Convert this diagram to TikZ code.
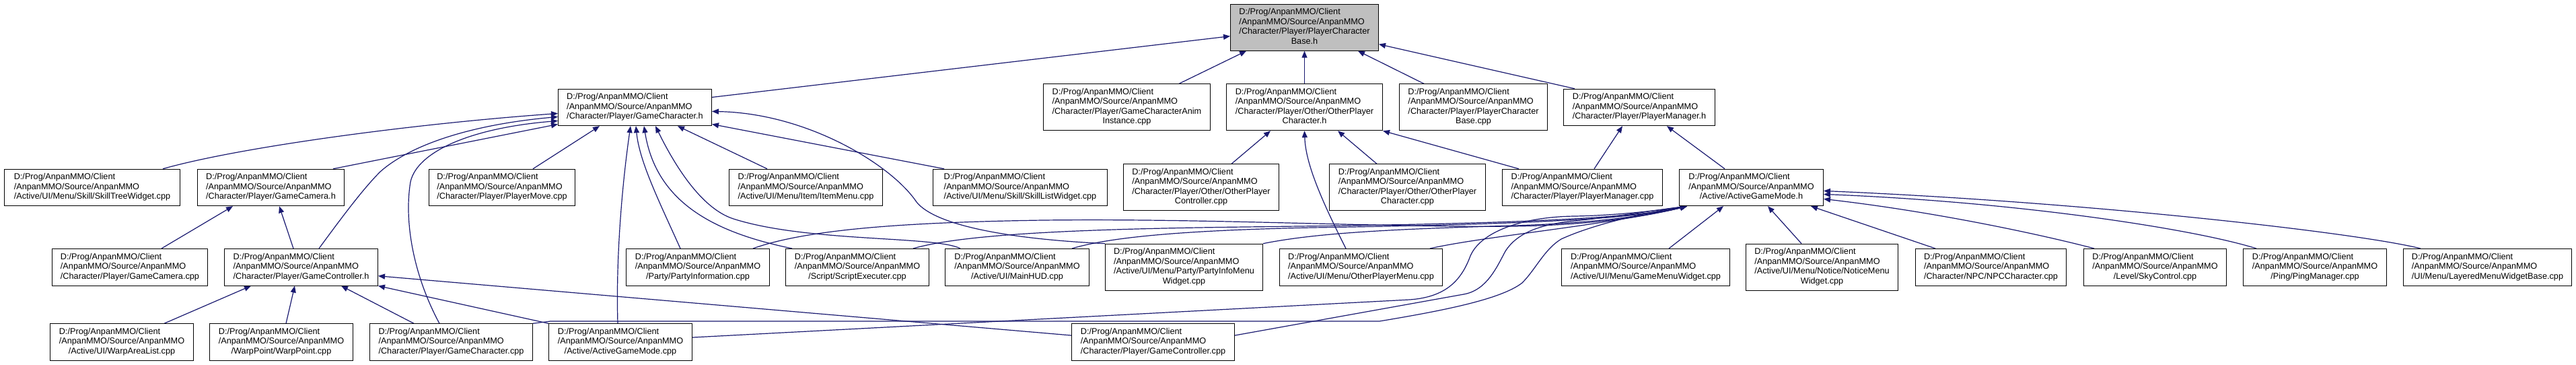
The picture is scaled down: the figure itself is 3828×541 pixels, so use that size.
\documentclass[tikz,border=0pt]{standalone}
\usepackage{fontspec}
\setmainfont{Liberation Sans}
\usetikzlibrary{arrows.meta}
\definecolor{edgec}{HTML}{191970}
\definecolor{rootc}{HTML}{BFBFBF}
\newcommand\lbl[2]{\begin{tabular}{@{}l@{}}#1\\\multicolumn{1}{@{}c@{}}{#2}\end{tabular}}
\newcommand\pre{D:/Prog/AnpanMMO/Client\\/AnpanMMO/Source/AnpanMMO}
\pgfdeclarelayer{bg}\pgfsetlayers{bg,main}
\begin{document}
\begin{tikzpicture}[x=1pt,y=-1pt,
  box/.style={draw=black, line width=1pt, fill=white, anchor=north west, inner sep=0pt, font=\fontsize{12.7}{14.5}\selectfont, text=black},
  tri/.style={box, minimum height=54.5pt},
  quad/.style={box, minimum height=69pt},
  dep/.style={draw=edgec, line width=1.2pt, -{Triangle[length=10pt,width=8pt]}},
]
\useasboundingbox (0,0) rectangle (3828,541);
% row 0
\node[quad, fill=rootc, minimum width=220] (R0) at (1828,5.7) {\lbl{\pre\\/Character/Player/PlayerCharacter}{Base.h}};
% row 1
\node[tri, minimum width=228] (GCh) at (829,131.7) {\lbl{\pre}{/Character/Player/GameCharacter.h}};
\node[quad, minimum width=248] (AnimI) at (1550,124.3) {\lbl{\pre\\/Character/Player/GameCharacterAnim}{Instance.cpp}};
\node[quad, minimum width=232] (OPCh) at (1822,124.3) {\lbl{\pre\\/Character/Player/Other/OtherPlayer}{Character.h}};
\node[quad, minimum width=220] (PCBcpp) at (2079,124.3) {\lbl{\pre\\/Character/Player/PlayerCharacter}{Base.cpp}};
\node[tri, minimum width=225] (PMh) at (2323,131.7) {\lbl{\pre}{/Character/Player/PlayerManager.h}};
% row 2
\node[tri, minimum width=261] (STW) at (6,250.7) {\lbl{\pre}{/Active/UI/Menu/Skill/SkillTreeWidget.cpp}};
\node[tri, minimum width=218] (GCamh) at (293,250.7) {\lbl{\pre}{/Character/Player/GameCamera.h}};
\node[tri, minimum width=217] (PMove) at (637,250.7) {\lbl{\pre}{/Character/Player/PlayerMove.cpp}};
\node[tri, minimum width=228] (Item) at (1083,250.7) {\lbl{\pre}{/Active/UI/Menu/Item/ItemMenu.cpp}};
\node[tri, minimum width=259] (SLW) at (1386,250.7) {\lbl{\pre}{/Active/UI/Menu/Skill/SkillListWidget.cpp}};
\node[quad, minimum width=231] (OPCtrl) at (1669,243.3) {\lbl{\pre\\/Character/Player/Other/OtherPlayer}{Controller.cpp}};
\node[quad, minimum width=232] (OPCcpp) at (1975,243.3) {\lbl{\pre\\/Character/Player/Other/OtherPlayer}{Character.cpp}};
\node[tri, minimum width=238] (PMcpp) at (2232,250.7) {\lbl{\pre}{/Character/Player/PlayerManager.cpp}};
\node[tri, minimum width=214] (AGMh) at (2495,250.7) {\lbl{\pre}{/Active/ActiveGameMode.h}};
% row 3
\node[tri, minimum width=231] (GCamcpp) at (77,369) {\lbl{\pre}{/Character/Player/GameCamera.cpp}};
\node[tri, minimum width=228] (GCtrlh) at (333,369) {\lbl{\pre}{/Character/Player/GameController.h}};
\node[tri, minimum width=213] (PInfo) at (930,369) {\lbl{\pre}{/Party/PartyInformation.cpp}};
\node[tri, minimum width=213] (Script) at (1167,369) {\lbl{\pre}{/Script/ScriptExecuter.cpp}};
\node[tri, minimum width=214] (HUD) at (1404,369) {\lbl{\pre}{/Active/UI/MainHUD.cpp}};
\node[quad, minimum width=234] (PIMW) at (1642,361.7) {\lbl{\pre\\/Active/UI/Menu/Party/PartyInfoMenu}{Widget.cpp}};
\node[tri, minimum width=242] (OPMenu) at (1901,369) {\lbl{\pre}{/Active/UI/Menu/OtherPlayerMenu.cpp}};
\node[tri, minimum width=250] (GMW) at (2320,369) {\lbl{\pre}{/Active/UI/Menu/GameMenuWidget.cpp}};
\node[quad, minimum width=226] (NMW) at (2594,361.7) {\lbl{\pre\\/Active/UI/Menu/Notice/NoticeMenu}{Widget.cpp}};
\node[tri, minimum width=224] (NPC) at (2846,369) {\lbl{\pre}{/Character/NPC/NPCCharacter.cpp}};
\node[tri, minimum width=212] (Sky) at (3096,369) {\lbl{\pre}{/Level/SkyControl.cpp}};
\node[tri, minimum width=213] (Ping) at (3333,369) {\lbl{\pre}{/Ping/PingManager.cpp}};
\node[tri, minimum width=250] (LMWB) at (3571,369) {\lbl{\pre}{/UI/Menu/LayeredMenuWidgetBase.cpp}};
% row 4
\node[tri, minimum width=213] (WAL) at (74,480.3) {\lbl{\pre}{/Active/UI/WarpAreaList.cpp}};
\node[tri, minimum width=213] (WP) at (311,480.3) {\lbl{\pre}{/WarpPoint/WarpPoint.cpp}};
\node[tri, minimum width=242] (GCcpp) at (549,480.3) {\lbl{\pre}{/Character/Player/GameCharacter.cpp}};
\node[tri, minimum width=213] (AGMcpp) at (815,480.3) {\lbl{\pre}{/Active/ActiveGameMode.cpp}};
\node[tri, minimum width=242] (GCtrlcpp) at (1592,480.3) {\lbl{\pre}{/Character/Player/GameController.cpp}};

\begin{pgfonlayer}{bg}
\fill[white] (0,0) rectangle (3828,541);
% into root
\draw[dep] ([yshift=15]GCh.east) -- ([yshift=-13]R0.west);
\draw[dep] ([xshift=202]AnimI.north west) -- ([xshift=24]R0.south west);
\draw[dep] (OPCh.north) -- (R0.south);
\draw[dep] ([xshift=37]PCBcpp.north west) -- ([xshift=190]R0.south west);
\draw[dep] ([xshift=17]PMh.north west) -- ([yshift=10]R0.south east);
% into GameCharacter.h
\draw[dep] ([xshift=236]STW.north west) .. controls (350,220) and (600,185) .. ([yshift=-9]GCh.west);
\draw[dep] ([xshift=202]GCamh.north west) -- ([yshift=-25]GCh.west);
\draw[dep] ([xshift=141]GCtrlh.north west) .. controls (510,320) and (540,280) .. (565,255) .. controls (610,215) and (700,185) .. ([yshift=-14]GCh.west);
\draw[dep] ([xshift=104]GCcpp.north west) .. controls (615,410) and (600,330) .. (610,270) .. controls (620,225) and (700,190) .. ([yshift=-20]GCh.west);
\draw[dep] ([xshift=155]PMove.north west) -- ([xshift=62]GCh.south west);
\draw[dep] ([xshift=103]AGMcpp.north west) .. controls (915,380) and (925,270) .. ([xshift=108]GCh.south west);
\draw[dep] ([xshift=81]PInfo.north west) .. controls (980,300) and (950,240) .. ([xshift=116]GCh.south west);
\draw[dep] ([xshift=10]Script.north west) .. controls (1060,345) and (975,300) .. ([xshift=128]GCh.south west);
\draw[dep] ([xshift=23]HUD.north west) .. controls (1390,350) and (1200,360) .. (1090,325) .. controls (1040,309) and (1000,240) .. ([xshift=145]GCh.south west);
\draw[dep] ([xshift=57]Item.north west) -- ([xshift=178]GCh.south west);
\draw[dep] ([xshift=17]SLW.north west) -- ([yshift=-25]GCh.east);
\draw[dep] (PIMW.north west) .. controls (1500,355) and (1390,335) .. (1362,300) .. controls (1325,245) and (1200,168) .. ([yshift=-6]GCh.east);
% into GameCamera.h
\draw[dep] ([xshift=163]GCamcpp.north west) -- ([xshift=53]GCamh.south west);
\draw[dep] ([xshift=103]GCtrlh.north west) -- ([xshift=122]GCamh.south west);
% into GameController.h
\draw[dep] ([xshift=170]WAL.north west) -- ([xshift=40]GCtrlh.south west);
\draw[dep] ([xshift=114]WP.north west) -- ([xshift=105]GCtrlh.south west);
\draw[dep] ([xshift=66]GCcpp.north west) -- ([xshift=174]GCtrlh.south west);
\draw[dep] (AGMcpp.north west) -- (GCtrlh.south east);
\draw[dep] ([yshift=10]GCtrlcpp.west) -- ([yshift=-13]GCtrlh.east);
% into OtherPlayerCharacter.h
\draw[dep] ([xshift=161]OPCtrl.north west) -- ([xshift=66]OPCh.south west);
\draw[dep] ([xshift=71]OPCcpp.north west) -- ([xshift=166]OPCh.south west);
\draw[dep] ([xshift=25]PMcpp.north west) -- (OPCh.south east);
\draw[dep] ([xshift=99]OPMenu.north west) .. controls (1960,290) and (1940,240) .. (OPCh.south);
% into PlayerManager.h
\draw[dep] ([xshift=137]PMcpp.north west) -- ([xshift=88]PMh.south west);
\draw[dep] ([xshift=68]AGMh.north west) -- ([xshift=154]PMh.south west);
% into ActiveGameMode.h
\draw[dep] ([xshift=189]PInfo.north west) .. controls (1200,340) and (1350,330) .. (1550,327) .. controls (1800,324) and (2050,338) .. (2250,336) .. controls (2380,334) and (2460,318) .. ([xshift=12]AGMh.south west);
\draw[dep] ([xshift=190]Script.north west) .. controls (1430,348) and (1600,340) .. (1850,337) .. controls (2100,334) and (2400,330) .. ([xshift=12]AGMh.south west);
\draw[dep] ([xshift=189]HUD.north west) .. controls (1650,352) and (1760,342) .. (1950,338) .. controls (2200,334) and (2420,328) .. ([xshift=12]AGMh.south west);
\draw[dep] (PIMW.north east) .. controls (1960,345) and (2080,340) .. (2250,335) .. controls (2380,331) and (2460,318) .. ([xshift=12]AGMh.south west);
\draw[dep] ([xshift=224]OPMenu.north west) .. controls (2210,350) and (2380,336) .. ([xshift=12]AGMh.south west);
\draw[dep] (GCcpp.north east) -- (818,477) -- (2050,477) .. controls (2140,462) and (2230,445) .. (2262,420) .. controls (2282,400) and (2295,370) .. (2320,355) .. controls (2370,332) and (2450,315) .. ([xshift=12]AGMh.south west);
\draw[dep] ([yshift=7]AGMcpp.east) -- (2095,445) .. controls (2150,441) and (2172,415) .. (2185,380) .. controls (2200,345) and (2260,322) .. (2340,321) .. controls (2400,320) and (2460,313) .. ([xshift=12]AGMh.south west);
\draw[dep] ([yshift=10]GCtrlcpp.east) -- (2175,437) .. controls (2210,431) and (2225,395) .. (2237,373) .. controls (2255,345) and (2290,333) .. (2340,328) .. controls (2400,322) and (2460,312) .. ([xshift=12]AGMh.south west);
\draw[dep] ([xshift=160]GMW.north west) -- ([xshift=66]AGMh.south west);
\draw[dep] ([xshift=83]NMW.north west) -- ([xshift=132]AGMh.south west);
\draw[dep] ([xshift=30]NPC.north west) -- ([xshift=-19]AGMh.south east);
\draw[dep] ([xshift=16]Sky.north west) .. controls (3040,350) and (2880,315) .. ([yshift=-17]AGMh.east);
\draw[dep] ([xshift=20]Ping.north west) .. controls (3260,340) and (3000,300) .. ([yshift=-10]AGMh.east);
\draw[dep] ([xshift=26]LMWB.north west) .. controls (3500,345) and (3100,300) .. ([yshift=-5]AGMh.east);
\end{pgfonlayer}
\end{tikzpicture}
\end{document}
